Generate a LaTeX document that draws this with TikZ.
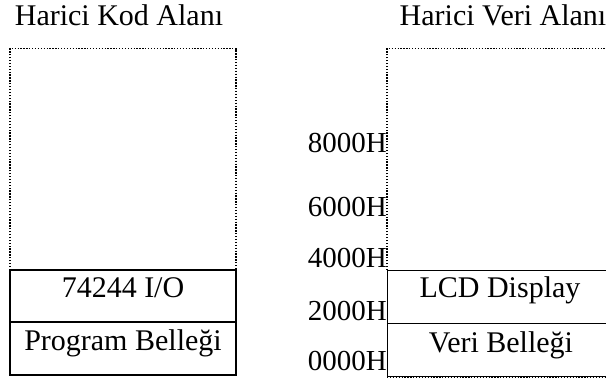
\documentclass[tikz,border=0pt]{standalone}
\usepackage{fontspec}
\setmainfont{Liberation Serif}
\begin{document}
\begin{tikzpicture}[x=1pt,y=-1pt,
  dotline/.style={line width=1.3pt, dash pattern=on 1.3pt off 1.6pt},
  solidbox/.style={draw, line width=1.4pt, rectangle, inner sep=0pt},
  big/.style={font=\fontsize{30}{36}\selectfont, anchor=base, inner sep=0pt},
  addr/.style={font=\fontsize{29}{34}\selectfont, anchor=base east, inner sep=0pt}]
\useasboundingbox (0,0) rectangle (606,380);
% titles
\node[big] (tkod) at (119,25) {Harici Kod Alanı};
\node[big] (tveri) at (503,25) {Harici Veri Alanı};
% left dotted frame
\coordinate (lt1) at (10,270);
\coordinate (lt2) at (10,48.5);
\coordinate (lt3) at (236,48.5);
\coordinate (lt4) at (236,270);
\draw[dotline] (lt1) -- (lt2) -- (lt3) -- (lt4);
% left solid boxes
\node[solidbox, minimum width=226pt, minimum height=52pt] (io) at (123,296) {};
\node[solidbox, minimum width=226pt, minimum height=53pt] (prog) at (123,348.5) {};
\node[big] (iol) at (123,297) {74244 I/O};
\node[big] (progl) at (123,350) {Program Belleği};
% right dotted frame
\coordinate (rt1) at (387,270);
\coordinate (rt2) at (387,48.5);
\coordinate (rt3) at (615,48.5);
\draw[dotline] (rt1) -- (rt2) -- (rt3);
\coordinate (rb1) at (387,377.5);
\coordinate (rb2) at (615,377.5);
\draw[dotline] (rb1) -- (rb2);
% right solid boxes
\node[solidbox, minimum width=226pt, minimum height=53pt, anchor=north west] (lcd) at (387,270) {};
\node[solidbox, minimum width=226pt, minimum height=53pt, anchor=north west] (veri) at (387,323) {};
\node[big] (lcdl) at (500,297) {LCD Display};
\node[big] (veril) at (501,352) {Veri Belleği};
% addresses
\node[addr] (a8) at (387,152) {8000H};
\node[addr] (a6) at (387,216) {6000H};
\node[addr] (a4) at (387,267) {4000H};
\node[addr] (a2) at (387,320) {2000H};
\node[addr] (a0) at (387,370) {0000H};
\end{tikzpicture}
\end{document}
